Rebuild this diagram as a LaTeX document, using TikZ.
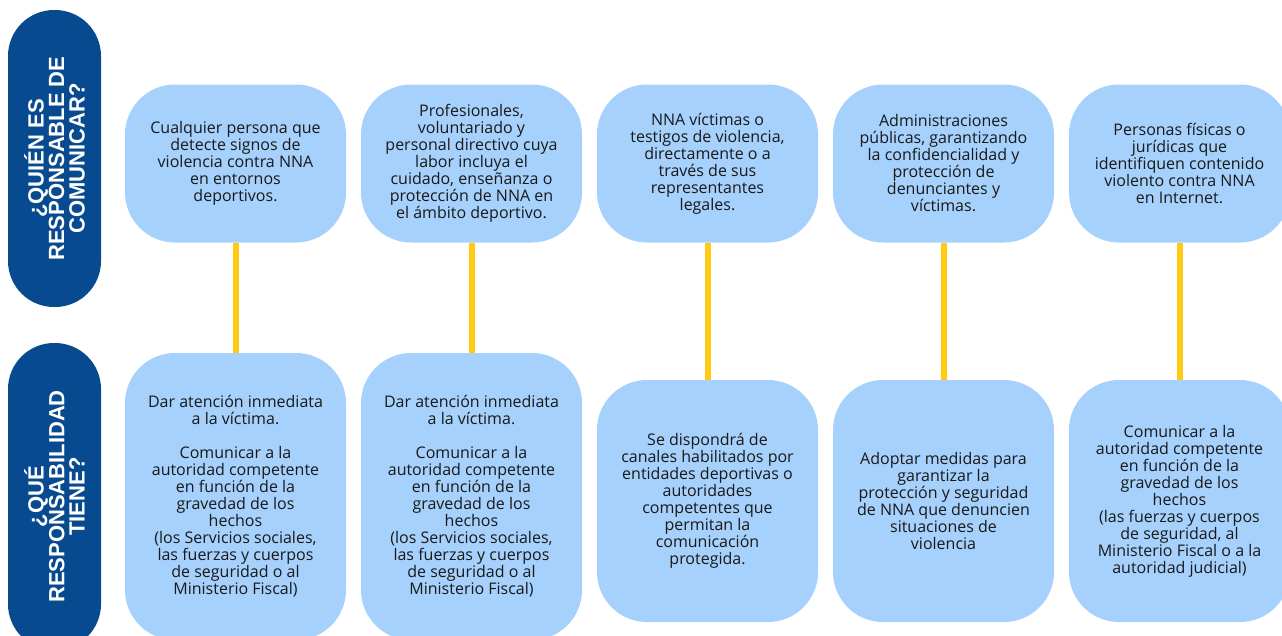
\documentclass[tikz,border=0pt]{standalone}
\usepackage{fontspec}
\setmainfont{Open Sans}
\newfontfamily\headfont{Liberation Sans}
\definecolor{navy}{RGB}{7,74,143}
\definecolor{sky}{RGB}{166,209,252}
\definecolor{gold}{RGB}{255,201,20}
\definecolor{ink}{RGB}{25,25,25}

\begin{document}
\begin{tikzpicture}[x=1pt,y=-1pt,
  pill/.style={fill=navy,rotate=90,rounded corners=46pt,minimum height=93pt,inner sep=0pt,
    text=white,align=center,font=\headfont\bfseries\fontsize{22}{20.5}\selectfont},
  card/.style={fill=sky,rounded corners=50pt,minimum width=221pt,inner sep=0pt,
    align=center,text=ink,font=\fontsize{16}{17}\selectfont},
  link/.style={gold,line width=6pt}]
\useasboundingbox (0,0) rectangle (1282,635);
\clip (0,0) rectangle (1282,635);

\node[pill,minimum width=297pt] (who) at (54.5,158.5) {¿QUIÉN ES\\RESPONSABLE DE\\COMUNICAR?};
\node[pill,minimum width=307pt] (what) at (54.5,496.5) {¿QUÉ\\RESPONSABILIDAD\\TIENE?};

\node[card,minimum height=158pt] (q1) at (235.5,163.5) {Cualquier persona que\\detecte signos de\\violencia contra NNA\\en entornos\\deportivos.};
\node[card,minimum height=158pt] (q2) at (471.5,163.5) {Profesionales,\\voluntariado y\\personal directivo cuya\\labor incluya el\\cuidado, enseñanza o\\protección de NNA en\\el ámbito deportivo.};
\node[card,minimum height=158pt] (q3) at (707.5,163.5) {NNA víctimas o\\testigos de violencia,\\directamente o a\\través de sus\\representantes\\legales.};
\node[card,minimum height=158pt] (q4) at (943.5,163.5) {Administraciones\\públicas, garantizando\\la confidencialidad y\\protección de\\denunciantes y\\víctimas.};
\node[card,minimum height=158pt] (q5) at (1179.5,163.5) {Personas físicas o\\jurídicas que\\identifiquen contenido\\violento contra NNA\\en Internet.};

\node[card,minimum height=287pt] (r1) at (235.5,496.5) {Dar atención inmediata\\a la víctima.\\[17pt]Comunicar a la\\autoridad competente\\en función de la\\gravedad de los\\hechos\\(los Servicios sociales,\\las fuerzas y cuerpos\\de seguridad o al\\Ministerio Fiscal)};
\node[card,minimum height=287pt] (r2) at (471.5,496.5) {Dar atención inmediata\\a la víctima.\\[17pt]Comunicar a la\\autoridad competente\\en función de la\\gravedad de los\\hechos\\(los Servicios sociales,\\las fuerzas y cuerpos\\de seguridad o al\\Ministerio Fiscal)};
\node[card,minimum height=242pt] (r3) at (707.5,501) {Se dispondrá de\\canales habilitados por\\entidades deportivas o\\autoridades\\competentes que\\permitan la\\comunicación\\protegida.};
\node[card,minimum height=242pt] (r4) at (943.5,501) {Adoptar medidas para\\garantizar la\\protección y seguridad\\de NNA que denuncien\\situaciones de\\violencia};
\node[card,minimum height=242pt] (r5) at (1179.5,501) {Comunicar a la\\autoridad competente\\en función de la\\gravedad de los\\hechos\\(las fuerzas y cuerpos\\de seguridad, al\\Ministerio Fiscal o a la\\autoridad judicial)};

\foreach \i in {1,...,5}
  \draw[link] (q\i.south) -- (r\i.north);
\end{tikzpicture}
\end{document}
